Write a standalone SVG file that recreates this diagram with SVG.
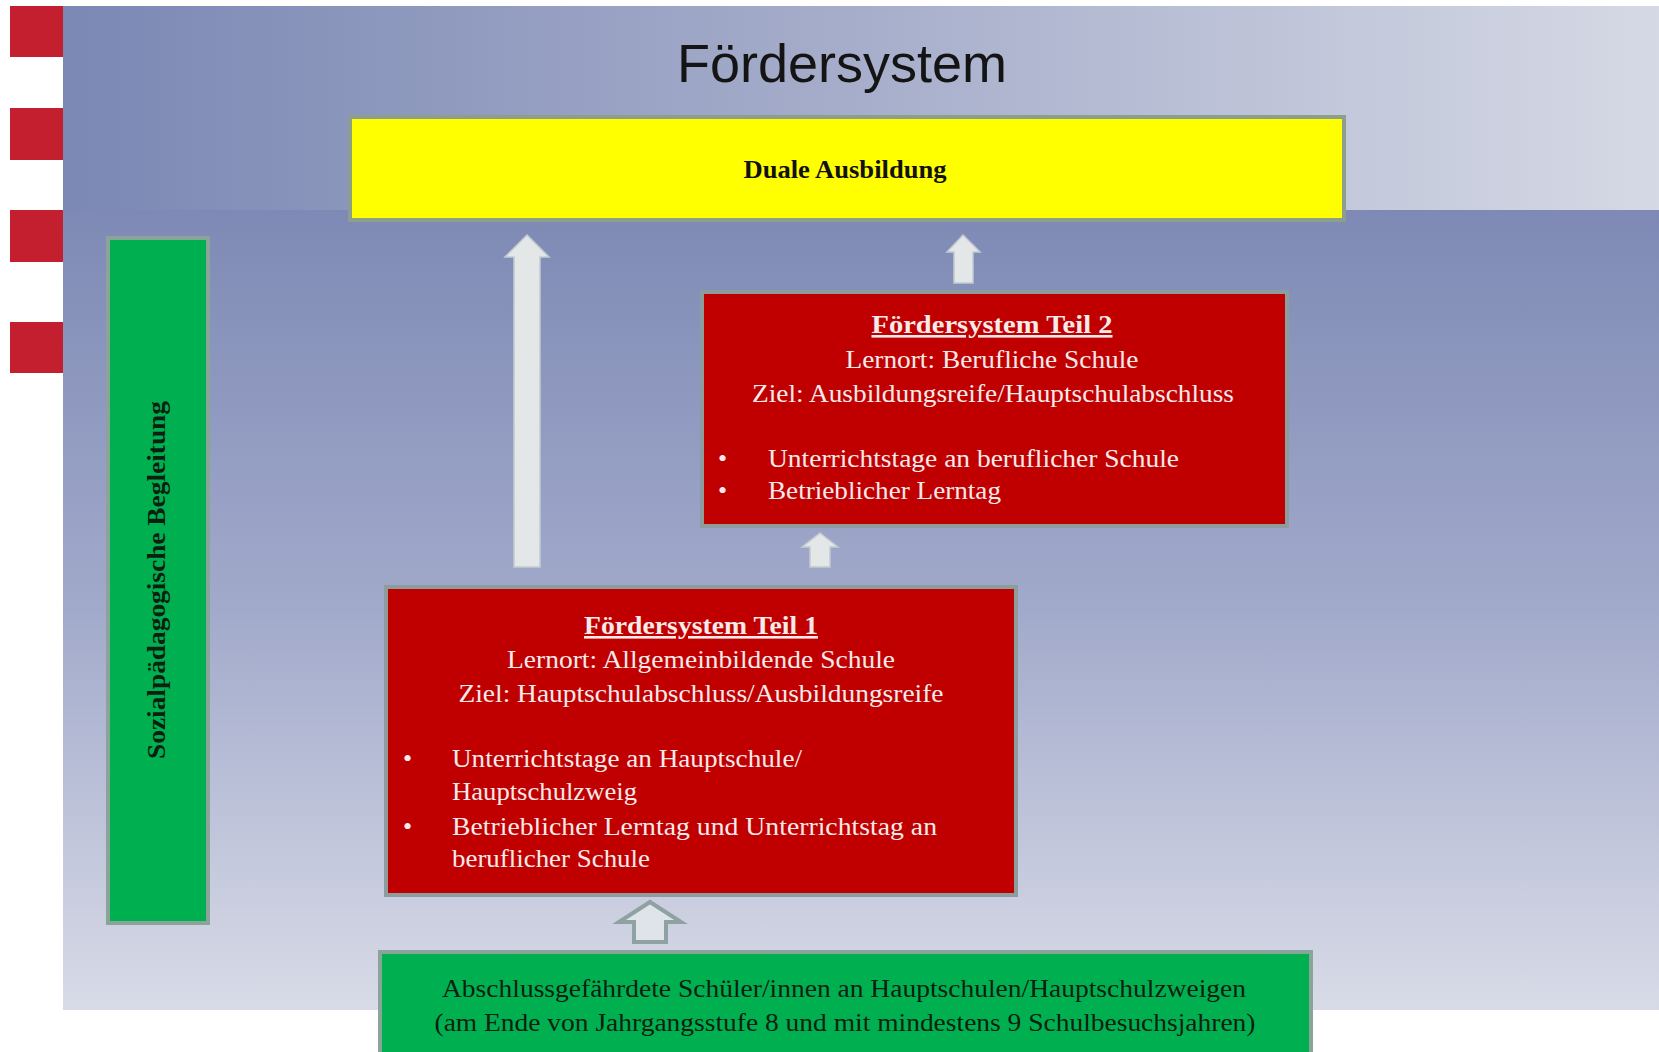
<svg xmlns="http://www.w3.org/2000/svg" width="1659" height="1052" viewBox="0 0 1659 1052">
<defs>
<linearGradient id="gTop" x1="0" y1="0" x2="1" y2="0">
<stop offset="0" stop-color="#7b88b4"/>
<stop offset="0.5" stop-color="#a7aecb"/>
<stop offset="1" stop-color="#d5d9e5"/>
</linearGradient>
<linearGradient id="gLow" x1="0" y1="0" x2="0" y2="1">
<stop offset="0" stop-color="#7e8ab5"/>
<stop offset="0.5" stop-color="#a2aacb"/>
<stop offset="1" stop-color="#d8dbe7"/>
</linearGradient>
<style>
.stripe{fill:#c41f2f}
.box{stroke-width:4}
.red{fill:#c00000;stroke:#8d9d9d}
.green{fill:#00b050;stroke:#8aa49a}
.yellow{fill:#ffff00;stroke:#8e9e8c}
.t{font-family:"Liberation Serif","Times New Roman",serif;font-size:26px}
.w{fill:#f7eaea}
.b{font-weight:bold}
.dk{fill:#0d1f10}
.arr{fill:#e3e7e7;stroke:#c3cbd0;stroke-width:1.5}
.arr2{fill:#dfe3ea;stroke:#8fa1a1;stroke-width:4;stroke-linejoin:miter}
</style>
</defs>
<rect x="0" y="0" width="1659" height="1052" fill="#ffffff"/>
<rect x="63" y="6" width="1596" height="205" fill="url(#gTop)"/>
<rect x="63" y="210" width="1596" height="800" fill="url(#gLow)"/>
<g id="stripes">
<rect class="stripe" x="10" y="6" width="53" height="51"/>
<rect class="stripe" x="10" y="108" width="53" height="52"/>
<rect class="stripe" x="10" y="210" width="53" height="52"/>
<rect class="stripe" x="10" y="322" width="53" height="51"/>
</g>
<text x="842" y="82" text-anchor="middle" font-family="'Liberation Sans',Arial,sans-serif" font-size="54" fill="#141414">Fördersystem</text>
<g id="connectors">
<polygon class="arr" points="527,235 549,257 540,257 540,567 514,567 514,257 505,257"/>
<polygon class="arr" points="963,235 980,252 973,252 973,283 954,283 954,252 947,252"/>
<polygon class="arr" points="820,533 838,547 830,547 830,567 810,567 810,547 802,547"/>
<polygon class="arr2" points="650,902 681,922 666,922 666,942 634,942 634,922 619,922"/>
</g>
<g id="duale">
<rect class="box yellow" x="350" y="117" width="994" height="103"/>
<text class="t b" x="845" y="178" text-anchor="middle" font-size="28" fill="#111" textLength="203" lengthAdjust="spacingAndGlyphs">Duale Ausbildung</text>
</g>
<g id="sozial">
<rect class="box green" x="108" y="238" width="100" height="685"/>
<text class="t b dk" transform="translate(165,580) rotate(-90)" x="0" y="0" text-anchor="middle" textLength="358" lengthAdjust="spacingAndGlyphs">Sozialpädagogische  Begleitung</text>
</g>
<g id="teil2">
<rect class="box red" x="702" y="292" width="585" height="234"/>
<text class="t w b" x="992" y="333" text-anchor="middle" text-decoration="underline" textLength="241" lengthAdjust="spacingAndGlyphs">Fördersystem Teil 2</text>
<text class="t w" x="992" y="368" text-anchor="middle" textLength="293" lengthAdjust="spacingAndGlyphs">Lernort: Berufliche Schule</text>
<text class="t w" x="993" y="402" text-anchor="middle" textLength="482" lengthAdjust="spacingAndGlyphs">Ziel: Ausbildungsreife/Hauptschulabschluss</text>
<text class="t w" x="718" y="467">•</text>
<text class="t w" x="768" y="467" textLength="411" lengthAdjust="spacingAndGlyphs">Unterrichtstage an beruflicher Schule</text>
<text class="t w" x="718" y="499">•</text>
<text class="t w" x="768" y="499" textLength="233" lengthAdjust="spacingAndGlyphs">Betrieblicher Lerntag</text>
</g>
<g id="teil1">
<rect class="box red" x="386" y="587" width="630" height="308"/>
<text class="t w b" x="701" y="634" text-anchor="middle" text-decoration="underline" textLength="234" lengthAdjust="spacingAndGlyphs">Fördersystem Teil 1</text>
<text class="t w" x="701" y="668" text-anchor="middle" textLength="388" lengthAdjust="spacingAndGlyphs">Lernort: Allgemeinbildende Schule</text>
<text class="t w" x="701" y="702" text-anchor="middle" textLength="485" lengthAdjust="spacingAndGlyphs">Ziel: Hauptschulabschluss/Ausbildungsreife</text>
<text class="t w" x="403" y="767">•</text>
<text class="t w" x="452" y="767" textLength="350" lengthAdjust="spacingAndGlyphs">Unterrichtstage an Hauptschule/</text>
<text class="t w" x="452" y="800" textLength="185" lengthAdjust="spacingAndGlyphs">Hauptschulzweig</text>
<text class="t w" x="403" y="835">•</text>
<text class="t w" x="452" y="835" textLength="485" lengthAdjust="spacingAndGlyphs">Betrieblicher Lerntag und Unterrichtstag an</text>
<text class="t w" x="452" y="867" textLength="198" lengthAdjust="spacingAndGlyphs">beruflicher Schule</text>
</g>
<g id="schueler">
<rect class="box green" x="380" y="952" width="931" height="106"/>
<text class="t dk" x="844" y="997" text-anchor="middle" textLength="804" lengthAdjust="spacingAndGlyphs">Abschlussgefährdete Schüler/innen an Hauptschulen/Hauptschulzweigen</text>
<text class="t dk" x="845" y="1031" text-anchor="middle" textLength="821" lengthAdjust="spacingAndGlyphs">(am Ende von Jahrgangsstufe 8 und mit mindestens 9 Schulbesuchsjahren)</text>
</g>
</svg>
